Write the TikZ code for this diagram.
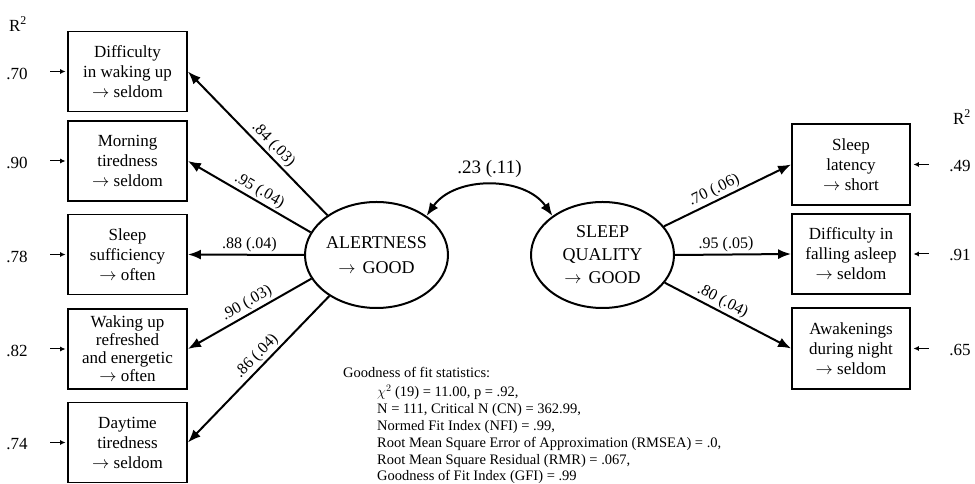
\documentclass[tikz,border=0pt]{standalone}
\usepackage{fontspec}
\setmainfont{Liberation Serif}
\usetikzlibrary{arrows.meta,shapes.geometric}

\tikzset{
  indicator/.style={draw,line width=1.8pt,minimum width=119pt,minimum height=80pt,
    inner sep=1pt,align=center,font=\fontsize{17}{20}\selectfont},
  factor/.style={draw,ellipse,line width=2pt,minimum width=143pt,minimum height=106pt,
    inner sep=0pt,align=center,font=\fontsize{18}{25}\selectfont},
  loading/.style={line width=2pt,-{Latex[length=13pt,width=10pt]}},
  corr/.style={line width=2pt,{Latex[length=13pt,width=10pt]}-{Latex[length=13pt,width=10pt]}},
  resid/.style={line width=1pt,-{Latex[length=5.5pt,width=5pt]}},
  coef/.style={sloped,above,inner sep=2pt,font=\fontsize{16}{18}\selectfont},
  rsq/.style={inner sep=0pt,font=\fontsize{17}{20}\selectfont},
  fitstat/.style={inner sep=0pt,align=left,font=\fontsize{14.5}{16.8}\selectfont}
}

\begin{document}
\begin{tikzpicture}[x=1pt,y=1pt]
  \useasboundingbox (0,0) rectangle (975,484);

  % ================= Alertness indicators (left) =================
  \node[indicator] (dwake)  at (127.5,412.5) {Difficulty\\in waking up\\$\rightarrow$ seldom};
  \node[indicator] (mtired) at (127.5,323)   {Morning\\tiredness\\$\rightarrow$ seldom};
  \node[indicator] (ssuff)  at (127.5,229.5) {Sleep\\sufficiency\\$\rightarrow$ often};
  \node[indicator,font=\fontsize{17}{18}\selectfont] (wref) at (127.5,135)
    {Waking up\\refreshed\\and energetic\\$\rightarrow$ often};
  \node[indicator] (dtired) at (127.5,41.5)  {Daytime\\tiredness\\$\rightarrow$ seldom};

  % ================= Sleep quality indicators (right) =================
  \node[indicator,minimum width=118pt,minimum height=81pt] (slat)  at (851,319.5) {Sleep\\latency\\$\rightarrow$ short};
  \node[indicator,minimum width=118pt] (dfall) at (851,230)   {Difficulty in\\falling asleep\\$\rightarrow$ seldom};
  \node[indicator,minimum width=118pt,minimum height=81pt] (awak)  at (851,135.5) {Awakenings\\during night\\$\rightarrow$ seldom};

  % ================= Latent factors =================
  \node[factor] (alert) at (376.5,229) {ALERTNESS\\$\rightarrow$\hspace{7pt}GOOD};
  \node[factor,font=\fontsize{18}{23}\selectfont] (sleepq) at (602.5,229)
    {SLEEP\\QUALITY\\$\rightarrow$\hspace{7pt}GOOD};

  % ================= Loadings =================
  \draw[loading] (alert.141) -- (dwake.east)  node[coef,pos=0.44] {.84 (.03)};
  \draw[loading] (alert.161) -- (mtired.east) node[coef,pos=0.46] {.95 (.04)};
  \draw[loading] (alert.west) -- (ssuff.east) node[coef,pos=0.47] {.88 (.04)};
  \draw[loading] (alert.200) -- (wref.east)   node[coef,pos=0.48] {.90 (.03)};
  \draw[loading] (alert.221) -- (dtired.east) node[coef,pos=0.46] {.86 (.04)};

  \draw[loading] (sleepq.25)   -- (slat.west)  node[coef,pos=0.43] {.70 (.06)};
  \draw[loading] (sleepq.east) -- (dfall.west) node[coef,pos=0.44] {.95 (.05)};
  \draw[loading] (sleepq.336)  -- (awak.west)  node[coef,pos=0.42] {.80 (.04)};

  % ================= Factor correlation =================
  \draw[corr] (alert.38) to[out=55,in=125]
    node[midway,above=7pt,inner sep=0pt,font=\fontsize{19}{21}\selectfont] (cov) {.23 (.11)}
    (sleepq.142);

  % ================= R^2 values =================
  \node[rsq] (rhl) at (18,460) {R\textsuperscript{2}};
  \node[rsq] (rhr) at (962,367) {R\textsuperscript{2}};

  \foreach \nm/\rv in {dwake/.70, mtired/.90, ssuff/.78, wref/.82, dtired/.74} {
    \coordinate (e\nm) at ([xshift=-17pt]\nm.west);
    \node[rsq] (r\nm) at ([xshift=-50pt,yshift=-2pt]\nm.west) {\rv};
    \draw[resid,shorten >=1.5pt] (e\nm) -- (\nm.west);
  }
  \foreach \nm/\rv in {slat/.49, dfall/.91, awak/.65} {
    \coordinate (e\nm) at ([xshift=18pt]\nm.east);
    \node[rsq] (r\nm) at ([xshift=49pt,yshift=-1pt]\nm.east) {\rv};
    \draw[resid,shorten >=2.5pt] (e\nm) -- (\nm.east);
  }

  % ================= Fit statistics =================
  \node[fitstat,anchor=west] (fithead) at (343,111) {Goodness of fit statistics:};
  \node[fitstat,anchor=north west] (fitbody) at (377,99)
    {$\chi^2$ (19) = 11.00, p = .92,\\
     N = 111, Critical N (CN) = 362.99,\\
     Normed Fit Index (NFI) = .99,\\
     Root Mean Square Error of Approximation (RMSEA) = .0,\\
     Root Mean Square Residual (RMR) = .067,\\
     Goodness of Fit Index (GFI) = .99};

\end{tikzpicture}
\end{document}
